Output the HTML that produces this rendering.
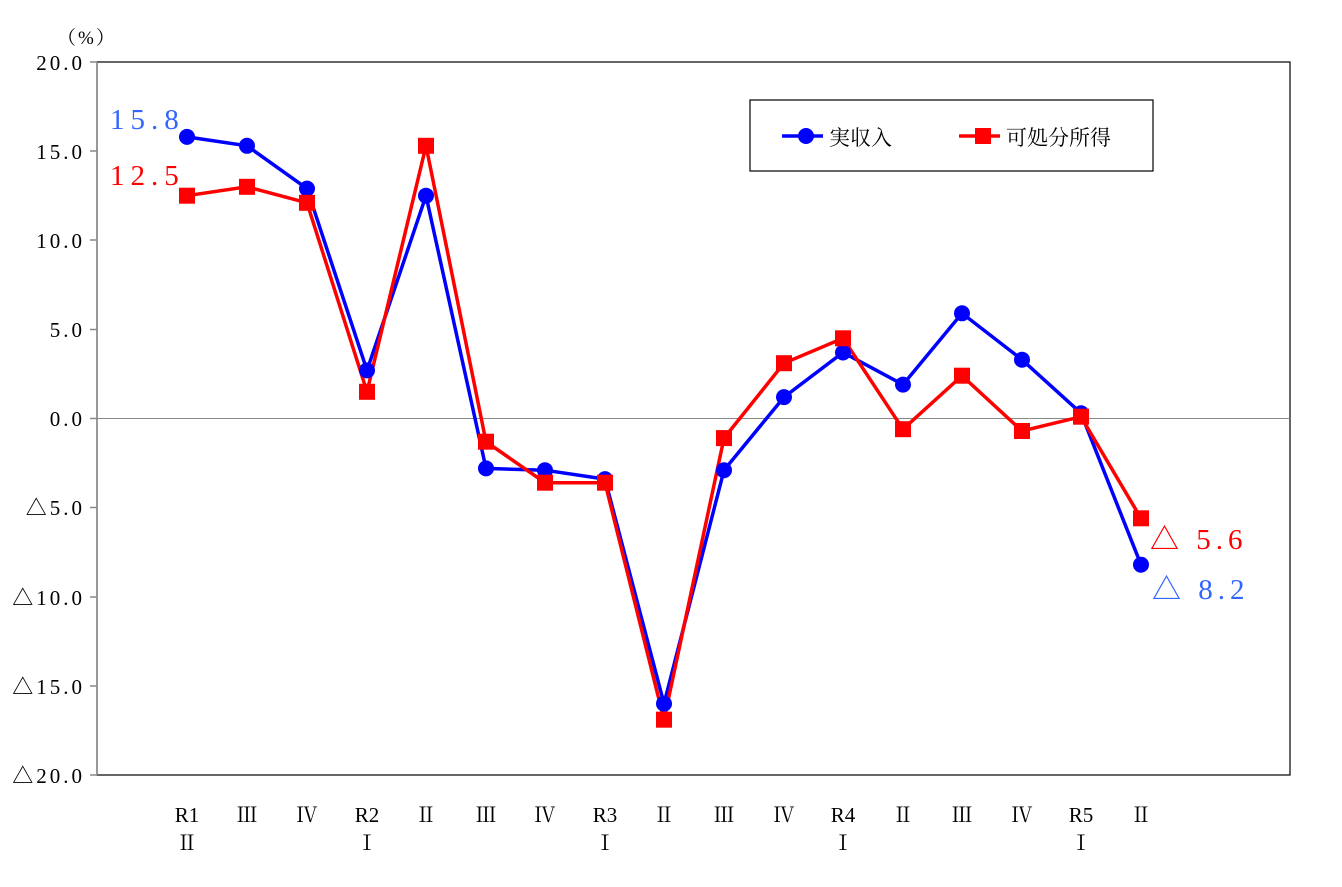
<!DOCTYPE html><html><head><meta charset="utf-8"><style>body{margin:0;background:#fff}svg{display:block}text{font-family:"Liberation Serif","Noto Serif CJK SC",serif}</style></head><body>
<svg width="1342" height="887" viewBox="0 0 1342 887">
<rect x="97" y="62" width="1193" height="713" fill="none" stroke="#000" stroke-width="1.2"/>
<line x1="97" y1="62" x2="97" y2="775" stroke="#888" stroke-width="1.5"/>
<line x1="97" y1="418.5" x2="1290" y2="418.5" stroke="#888" stroke-width="1"/>
<g stroke="#888" stroke-width="1.5">
<line x1="90" y1="62" x2="97" y2="62"/><line x1="90" y1="151" x2="97" y2="151"/><line x1="90" y1="240" x2="97" y2="240"/><line x1="90" y1="329.5" x2="97" y2="329.5"/><line x1="90" y1="418.5" x2="97" y2="418.5"/><line x1="90" y1="507.5" x2="97" y2="507.5"/><line x1="90" y1="597" x2="97" y2="597"/><line x1="90" y1="686" x2="97" y2="686"/><line x1="90" y1="775" x2="97" y2="775"/>
</g>
<g font-size="21" text-anchor="end" fill="#000" letter-spacing="3">
<text x="85" y="70">20.0</text><text x="85" y="159">15.0</text><text x="85" y="248">10.0</text><text x="85" y="337">5.0</text><text x="85" y="426">0.0</text><text x="85" y="515">△5.0</text><text x="85" y="605">△10.0</text><text x="85" y="694">△15.0</text><text x="85" y="783">△20.0</text>
</g>
<text x="57" y="44" font-size="19" letter-spacing="2">（%）</text>
<g font-size="21" text-anchor="middle" fill="#000">
<text x="187" y="822">R1</text><text x="187" y="850">Ⅱ</text>
<text x="247" y="822">Ⅲ</text><text x="307" y="822">Ⅳ</text>
<text x="367" y="822">R2</text><text x="367" y="850">Ⅰ</text>
<text x="426" y="822">Ⅱ</text><text x="486" y="822">Ⅲ</text><text x="545" y="822">Ⅳ</text>
<text x="605" y="822">R3</text><text x="605" y="850">Ⅰ</text>
<text x="664" y="822">Ⅱ</text><text x="724" y="822">Ⅲ</text><text x="784" y="822">Ⅳ</text>
<text x="843" y="822">R4</text><text x="843" y="850">Ⅰ</text>
<text x="903" y="822">Ⅱ</text><text x="962" y="822">Ⅲ</text><text x="1022" y="822">Ⅳ</text>
<text x="1081" y="822">R5</text><text x="1081" y="850">Ⅰ</text>
<text x="1141" y="822">Ⅱ</text>
</g>
<polyline fill="none" stroke="#0000ff" stroke-width="3.5" points="187,136.9 247,145.8 307,188.6 367,370.4 426,195.7 486,468.4 545,470.2 605,479.1 664,703.7 724,470.2 784,397.1 843,352.5 903,384.6 962,313.3 1022,359.7 1081,413.2 1141,564.7"/>
<polyline fill="none" stroke="#ff0000" stroke-width="3.5" points="187,195.7 247,186.8 307,202.8 367,391.8 426,145.8 486,441.7 545,482.7 605,482.7 664,719.7 724,438.1 784,363.2 843,338.3 903,429.2 962,375.7 1022,431 1081,416.7 1141,518.3"/>
<g fill="#0000ff">
<circle cx="187" cy="136.9" r="8"/><circle cx="247" cy="145.8" r="8"/><circle cx="307" cy="188.6" r="8"/><circle cx="367" cy="370.4" r="8"/><circle cx="426" cy="195.7" r="8"/><circle cx="486" cy="468.4" r="8"/><circle cx="545" cy="470.2" r="8"/><circle cx="605" cy="479.1" r="8"/><circle cx="664" cy="703.7" r="8"/><circle cx="724" cy="470.2" r="8"/><circle cx="784" cy="397.1" r="8"/><circle cx="843" cy="352.5" r="8"/><circle cx="903" cy="384.6" r="8"/><circle cx="962" cy="313.3" r="8"/><circle cx="1022" cy="359.7" r="8"/><circle cx="1081" cy="413.2" r="8"/><circle cx="1141" cy="564.7" r="8"/>
</g>
<g fill="#ff0000">
<rect x="179" y="187.7" width="16" height="16"/><rect x="239" y="178.8" width="16" height="16"/><rect x="299" y="194.8" width="16" height="16"/><rect x="359" y="383.8" width="16" height="16"/><rect x="418" y="137.8" width="16" height="16"/><rect x="478" y="433.7" width="16" height="16"/><rect x="537" y="474.7" width="16" height="16"/><rect x="597" y="474.7" width="16" height="16"/><rect x="656" y="711.7" width="16" height="16"/><rect x="716" y="430.1" width="16" height="16"/><rect x="776" y="355.2" width="16" height="16"/><rect x="835" y="330.3" width="16" height="16"/><rect x="895" y="421.2" width="16" height="16"/><rect x="954" y="367.7" width="16" height="16"/><rect x="1014" y="423" width="16" height="16"/><rect x="1073" y="408.7" width="16" height="16"/><rect x="1133" y="510.3" width="16" height="16"/>
</g>
<text x="110" y="129" font-size="29" fill="#3366ff" letter-spacing="6">15.8</text>
<text x="110" y="185" font-size="29" fill="#ff0000" letter-spacing="6">12.5</text>
<text x="1150" y="549" font-size="29" fill="#ff0000" letter-spacing="5">△ 5.6</text>
<text x="1152" y="599" font-size="29" fill="#3366ff" letter-spacing="5">△ 8.2</text>
<rect x="750" y="100" width="403" height="71" fill="#fff" stroke="#000" stroke-width="1.2"/>
<line x1="782" y1="136" x2="823" y2="136" stroke="#0000ff" stroke-width="3.5"/><circle cx="806" cy="136" r="8" fill="#0000ff"/>
<text x="829" y="145" font-size="21" font-family="'Noto Sans CJK JP',sans-serif">実収入</text>
<line x1="959" y1="136" x2="1000" y2="136" stroke="#ff0000" stroke-width="3.5"/><rect x="975" y="128" width="16" height="16" fill="#ff0000"/>
<text x="1006" y="145" font-size="21" font-family="'Noto Sans CJK JP',sans-serif">可処分所得</text>
</svg></body></html>
